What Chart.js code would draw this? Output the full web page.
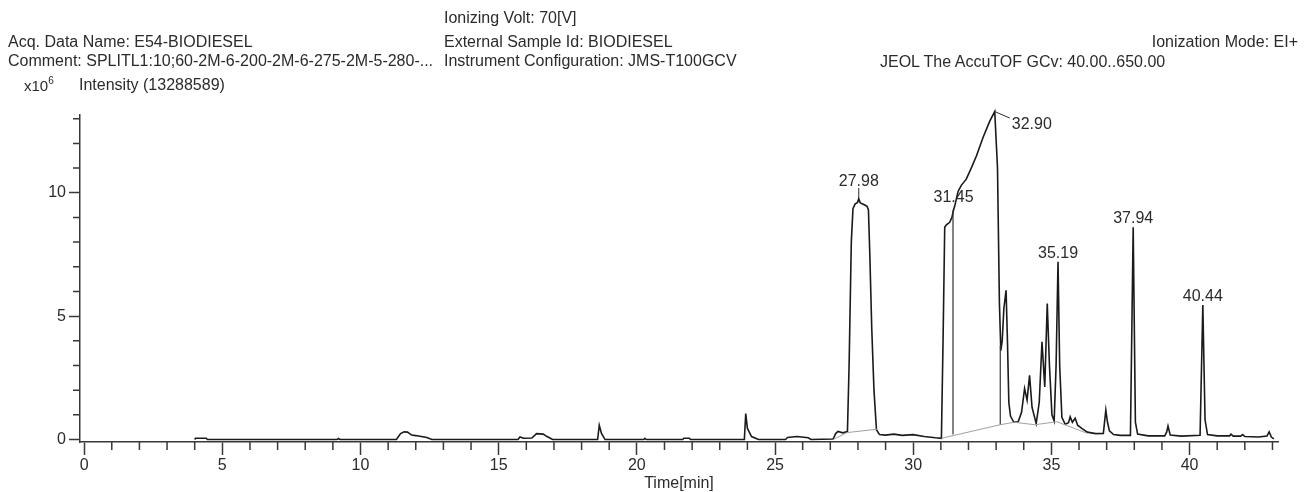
<!DOCTYPE html>
<html>
<head>
<meta charset="utf-8">
<script src="https://cdn.jsdelivr.net/npm/chart.js@4.4.1/dist/chart.umd.min.js"></script>
<style>
  body { margin: 0; background: #fff; }
  #wrap { position: relative; width: 1307px; height: 492px; font-family: "Liberation Sans", Arial, sans-serif; color: #2b2b2b; }
  #wrap canvas { position: absolute; left: 0; top: 0; }
  .hd { position: absolute; font-size: 16px; line-height: 16px; white-space: nowrap; }
</style>
</head>
<body>
<div id="wrap">
  <canvas id="chart" width="1307" height="492"></canvas>
  <div class="hd" style="left:444px;top:10px">Ionizing Volt: 70[V]</div>
  <div class="hd" style="left:8px;top:34px">Acq. Data Name: E54-BIODIESEL</div>
  <div class="hd" style="left:444px;top:34px">External Sample Id: BIODIESEL</div>
  <div class="hd" style="right:9px;top:34px">Ionization Mode: EI+</div>
  <div class="hd" style="left:8px;top:53px">Comment: SPLITL1:10;60-2M-6-200-2M-6-275-2M-5-280-...</div>
  <div class="hd" style="left:444px;top:53px">Instrument Configuration: JMS-T100GCV</div>
  <div class="hd" style="left:880px;top:54px">JEOL The AccuTOF GCv: 40.00..650.00</div>
  <div class="hd" style="left:24px;top:78px;font-size:15px">x10<span style="position:relative;top:-7px;font-size:10px">6</span></div>
  <div class="hd" style="left:79px;top:77px">Intensity (13288589)</div>
</div>
<script>
// TIC trace (time in min, intensity in 10^6 counts)
const traceTime = [4.0, 4.03, 4.42, 4.46, 9.15, 9.2, 9.26, 11.3, 11.45, 11.58, 11.7, 11.85, 12.0, 12.15, 12.4, 12.58,
  15.7, 15.77, 15.9, 16.2, 16.37, 16.61, 16.75, 16.95, 18.58, 18.64, 18.72, 18.85, 20.25, 20.29, 20.34,
  21.66, 21.7, 21.9, 21.94, 23.89, 23.94, 24.0, 24.15, 24.4, 25.38, 25.45, 25.8, 26.2, 26.3,
  27.1, 27.2, 27.28, 27.45, 27.62, 27.68, 27.76, 27.82, 27.9, 27.98, 28.03, 28.08, 28.15, 28.25, 28.33, 28.38,
  28.43, 28.5, 28.58, 28.67, 28.78, 29.0, 29.3, 29.6, 30.0, 30.4, 30.8, 31.02, 31.08, 31.14, 31.2, 31.32,
  31.4, 31.46, 31.5, 31.62, 31.74, 31.92, 32.1, 32.29, 32.53, 32.77, 32.95, 33.05, 33.12, 33.17, 33.22,
  33.28, 33.36, 33.41, 33.46, 33.52, 33.64, 33.8, 33.92, 34.03, 34.12, 34.21, 34.3, 34.45, 34.56, 34.66,
  34.76, 34.85, 34.93, 35.02, 35.1, 35.17, 35.24, 35.3, 35.38, 35.5, 35.62, 35.68, 35.76, 35.86, 35.95,
  36.1, 36.3, 36.6, 36.88, 36.97, 37.03, 37.1, 37.25, 37.5, 37.86, 37.96, 38.04, 38.12, 38.5, 39.1, 39.17,
  39.22, 39.3, 39.7, 40.38, 40.48, 40.56, 40.65, 41.0, 41.45, 41.5, 41.58, 41.85, 41.92, 42.0, 42.5, 42.8,
  42.88, 42.96, 43.05];
const traceIntensity = [0, 0.05, 0.05, 0, 0, 0.04, 0, 0, 0.24, 0.31, 0.3, 0.18, 0.16, 0.13, 0.08, 0,
  0, 0.1, 0.05, 0.06, 0.24, 0.22, 0.12, 0, 0, 0.58, 0.25, 0, 0, 0.05, 0,
  0, 0.05, 0.05, 0, 0, 1.05, 0.45, 0.12, 0, 0, 0.08, 0.12, 0.07, 0,
  0.02, 0.25, 0.33, 0.27, 0.32, 3.0, 8.0, 9.35, 9.55, 9.6, 9.75, 9.6, 9.55, 9.5, 9.45, 9.3,
  7.5, 4.5, 2.0, 0.4, 0.2, 0.18, 0.22, 0.17, 0.2, 0.12, 0.07, 0.05, 4.0, 8.6, 8.7, 8.8,
  9.0, 9.3, 9.45, 10.04, 10.3, 10.55, 11.0, 11.5, 12.25, 12.9, 13.29, 11.0, 5.5, 3.6, 4.0,
  5.3, 6.05, 4.0, 1.5, 0.95, 0.7, 0.72, 1.1, 2.07, 1.6, 2.6, 1.3, 0.65, 1.5, 3.96,
  2.13, 5.51, 3.0, 1.0, 0.75, 3.0, 7.2, 3.0, 0.9, 0.62, 0.68, 0.92, 0.7, 0.86, 0.58,
  0.45, 0.3, 0.24, 0.25, 1.19, 0.7, 0.35, 0.2, 0.17, 0.17, 8.6, 0.7, 0.22, 0.15, 0.15, 0.3,
  0.55, 0.18, 0.14, 0.17, 5.45, 0.8, 0.2, 0.15, 0.15, 0.22, 0.14, 0.14, 0.2, 0.12, 0.1, 0.14,
  0.31, 0.1, 0.03];

// integration baselines (null = gap between segments)
const baseTime = [27.1, 27.6, 28.7, null, 31.02, 33.15, 33.65, 34.4, 35.2, 36.3];
const baseIntensity = [0.0, 0.28, 0.42, null, 0.05, 0.6, 0.7, 0.6, 0.72, 0.25];

// vertical drop lines
const dropTime = [31.44, 33.15];
const dropFrom = [0.2, 0.6];
const dropTo = [9.3, 3.8];

// peak annotations
const peakLabels = ['27.98', '31.45', '32.90', '35.19', '37.94', '40.44'];
const peakTime = [28.03, 31.46, 32.95, 35.24, 37.96, 40.48];
const peakIntensity = [9.75, 9.45, 13.29, 7.2, 8.6, 5.45];
const peakKind = ['stem', 'plain', 'leader', 'plain', 'plain', 'plain'];

// axis ticks
const xMajorTicks = [0, 5, 10, 15, 20, 25, 30, 35, 40];
const xMinorTicks = [1, 2, 3, 4, 6, 7, 8, 9, 11, 12, 13, 14, 16, 17, 18, 19, 21, 22, 23, 24, 26, 27, 28, 29,
  31, 32, 33, 34, 36, 37, 38, 39, 41, 42, 43];
const yMajorTicks = [0, 5, 10];
const yMinorTicks = [1, 2, 3, 4, 6, 7, 8, 9, 11, 12, 13];

const axisColor = '#383838';
const textColor = '#2b2b2b';
const fontFamily = '"Liberation Sans", Arial, sans-serif';

var trace = traceTime.map((t, i) => ({x: t, y: traceIntensity[i]}));
var baseline = baseTime.map((t, i) => ({x: t === null ? NaN : t, y: baseIntensity[i]}));
var drops = [];
dropTime.forEach((t, i) => {
    drops.push({x: t, y: dropFrom[i]}, {x: t, y: dropTo[i]}, {x: t, y: null});
});

const minorTickPlugin = {
    id: 'minorTicks',
    afterDraw(chart) {
        var ctx = chart.ctx;
        var area = chart.chartArea;
        var x = chart.scales.x, y = chart.scales.y;
        ctx.save();
        ctx.strokeStyle = axisColor;
        ctx.lineWidth = 1.5;
        ctx.beginPath();
        xMinorTicks.forEach(v => {
            var px = x.getPixelForValue(v);
            ctx.moveTo(px, area.bottom);
            ctx.lineTo(px, area.bottom + 8);
        });
        yMinorTicks.forEach(v => {
            var py = y.getPixelForValue(v);
            ctx.moveTo(area.left, py);
            ctx.lineTo(area.left - 7, py);
        });
        ctx.stroke();
        ctx.restore();
    }
};

const peakLabelPlugin = {
    id: 'peakLabels',
    afterDatasetsDraw(chart) {
        var ctx = chart.ctx;
        var x = chart.scales.x, y = chart.scales.y;
        ctx.save();
        ctx.font = '16px ' + fontFamily;
        ctx.fillStyle = textColor;
        ctx.strokeStyle = '#2a2a2a';
        ctx.lineWidth = 1;
        ctx.textBaseline = 'alphabetic';
        peakLabels.forEach((txt, i) => {
            var px = x.getPixelForValue(peakTime[i]);
            var py = y.getPixelForValue(peakIntensity[i]);
            if (peakKind[i] === 'stem') {
                ctx.beginPath();
                ctx.moveTo(px, py - 1);
                ctx.lineTo(px, py - 11);
                ctx.stroke();
                ctx.textAlign = 'center';
                ctx.fillText(txt, px, py - 13);
            } else if (peakKind[i] === 'leader') {
                ctx.beginPath();
                ctx.moveTo(px, py);
                ctx.lineTo(px + 15, py + 6.5);
                ctx.stroke();
                ctx.textAlign = 'left';
                ctx.fillText(txt, px + 17, py + 17);
            } else {
                ctx.textAlign = 'center';
                ctx.fillText(txt, px, py - 4);
            }
        });
        ctx.restore();
    }
};

var chartCtx = document.getElementById('chart').getContext('2d');
var chromChart = new Chart(chartCtx, {
    type: 'line',
    data: {
        datasets: [
            {
                label: 'Baseline',
                data: baseline,
                borderColor: '#a0a0a0',
                borderWidth: 1,
                pointRadius: 0,
                spanGaps: false
            },
            {
                label: 'Drop lines',
                data: drops,
                borderColor: '#333333',
                borderWidth: 1.2,
                pointRadius: 0,
                spanGaps: false
            },
            {
                label: 'Intensity',
                data: trace,
                borderColor: '#1a1a1a',
                borderWidth: 1.6,
                pointRadius: 0,
                tension: 0,
                clip: false
            }
        ]
    },
    options: {
        responsive: false,
        animation: false,
        layout: { padding: { top: 115, right: 29, bottom: 0, left: 0 } },
        plugins: {
            legend: { display: false },
            tooltip: { enabled: false }
        },
        scales: {
            x: {
                type: 'linear',
                position: 'bottom',
                min: -0.15,
                max: 43.2,
                afterBuildTicks: s => { s.ticks = xMajorTicks.map(v => ({value: v})); },
                afterFit: s => { s.height = 50; },
                ticks: {
                    color: textColor,
                    font: { family: fontFamily, size: 16 },
                    padding: 1,
                    maxRotation: 0,
                    autoSkip: false
                },
                grid: {
                    drawOnChartArea: false,
                    drawTicks: true,
                    tickLength: 13,
                    tickWidth: 1.5,
                    tickColor: axisColor
                },
                border: { display: true, color: axisColor, width: 1.5 },
                title: {
                    display: true,
                    text: 'Time[min]',
                    color: textColor,
                    font: { family: fontFamily, size: 16, lineHeight: 1 },
                    padding: 0
                }
            },
            y: {
                type: 'linear',
                position: 'left',
                min: -0.1,
                max: 13.15,
                afterBuildTicks: s => { s.ticks = yMajorTicks.map(v => ({value: v})); },
                afterFit: s => { s.width = 80; },
                ticks: {
                    color: textColor,
                    font: { family: fontFamily, size: 16 },
                    padding: 3
                },
                grid: {
                    drawOnChartArea: false,
                    drawTicks: true,
                    tickLength: 11,
                    tickWidth: 1.5,
                    tickColor: axisColor
                },
                border: { display: true, color: axisColor, width: 1.5 }
            }
        }
    },
    plugins: [minorTickPlugin, peakLabelPlugin]
});
</script>
</body>
</html>
